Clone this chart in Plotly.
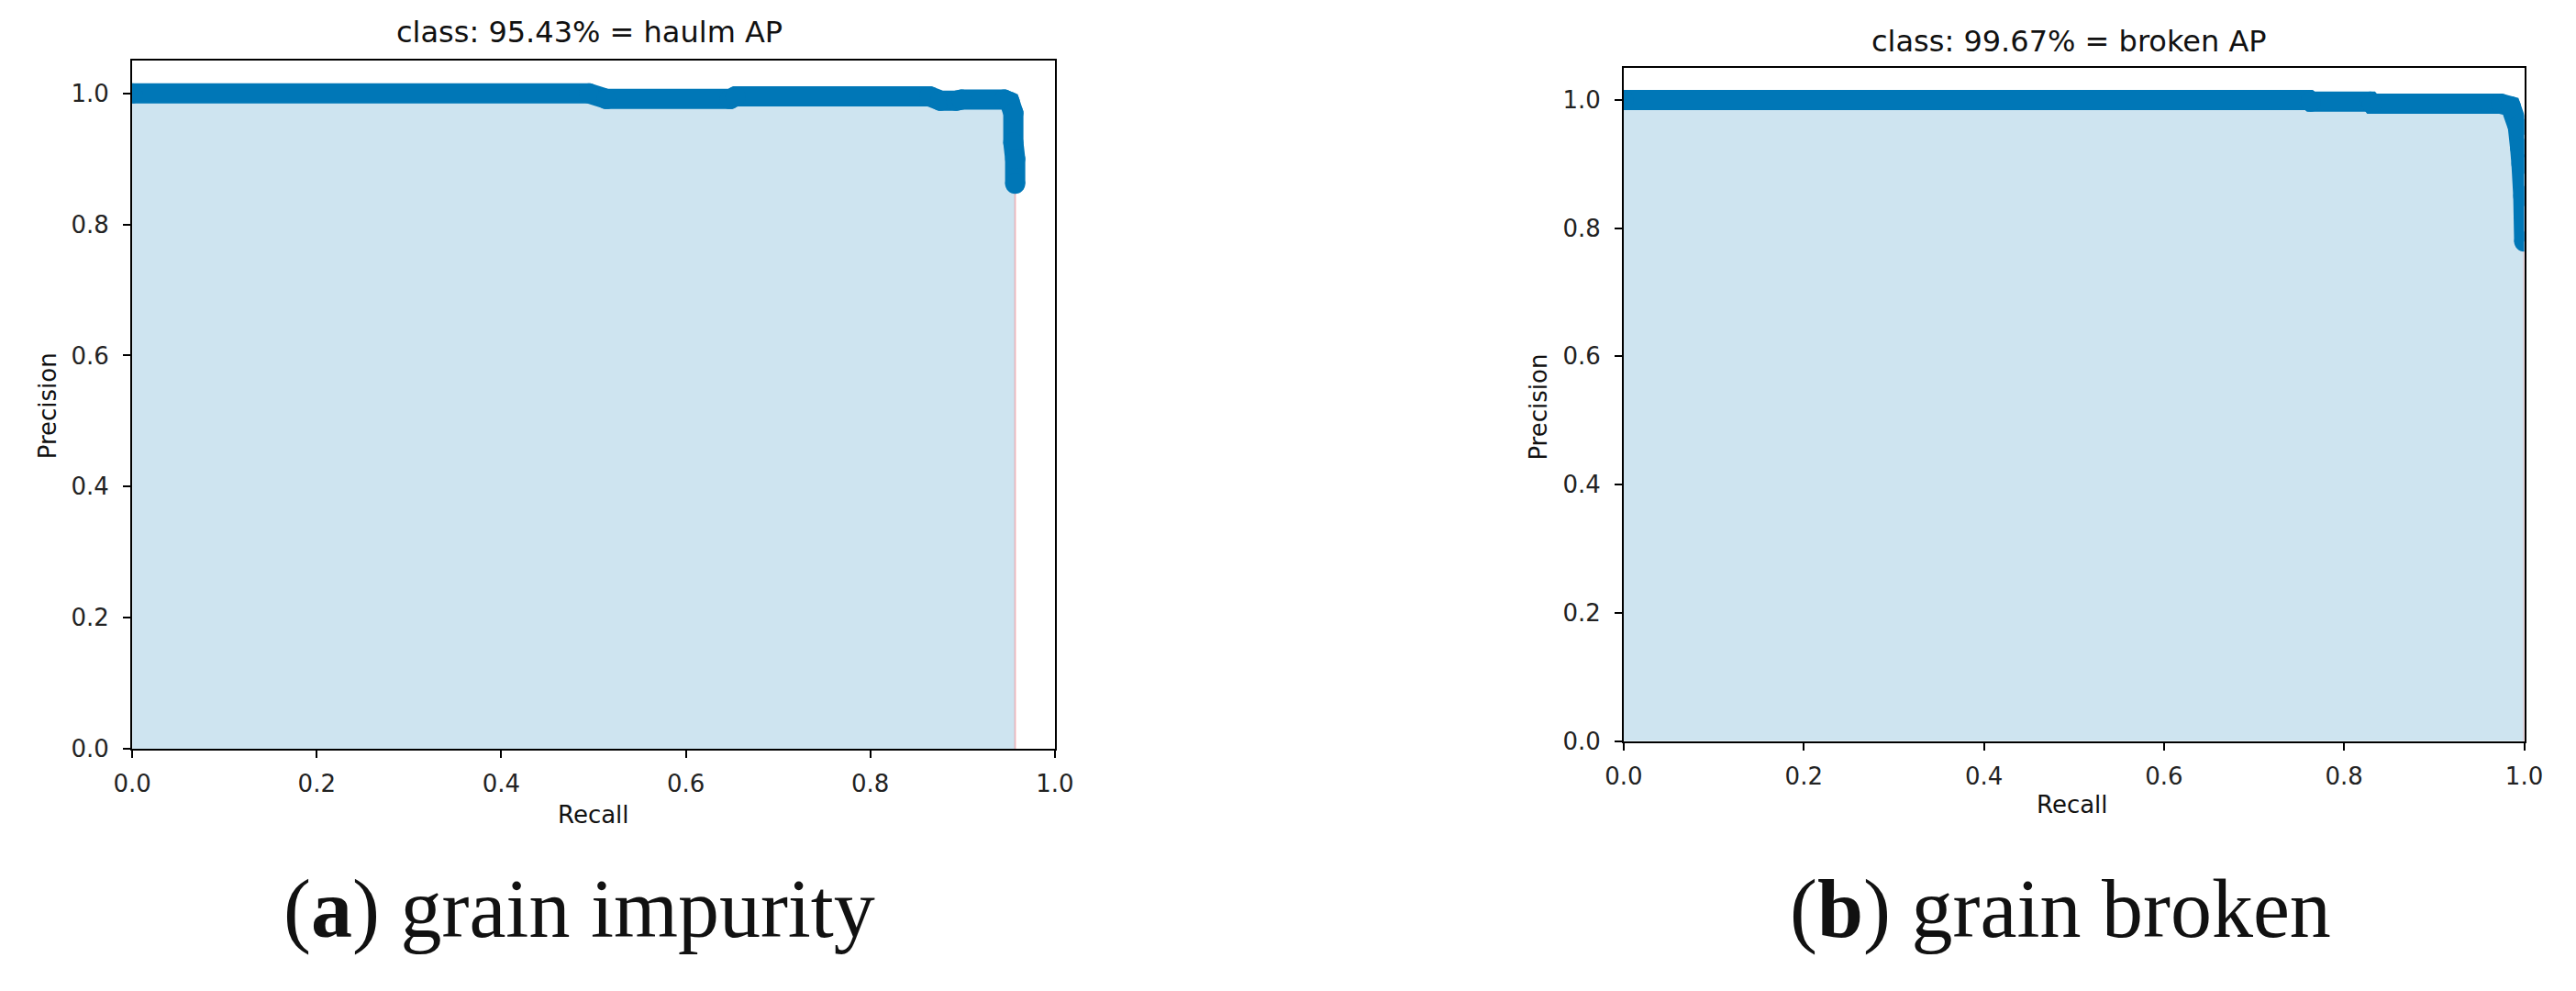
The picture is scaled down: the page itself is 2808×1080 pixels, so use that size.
import plotly.graph_objects as go

W, H = 2808, 1080

# ---- data ----
haulm_recall = [0.0, 0.495, 0.514, 0.648, 0.654, 0.864, 0.876, 0.893, 0.899, 0.945,
                0.951, 0.955, 0.955, 0.957, 0.957]
haulm_precision = [1.0, 1.0, 0.9915, 0.9915, 0.9955, 0.9955, 0.989, 0.989, 0.9905, 0.9905,
                   0.987, 0.97, 0.925, 0.90, 0.862]

broken_recall = [0.0, 0.761, 0.763, 0.829, 0.831, 0.974, 0.985, 0.993, 0.9955, 0.997, 0.999, 1.0]
broken_precision = [1.0, 1.0, 0.9975, 0.9975, 0.994, 0.994, 0.99, 0.958, 0.925, 0.90, 0.85, 0.779]

titles = ["class: 95.43% = haulm AP", "class: 99.67% = broken AP"]
captions = ["(<b>a</b>) grain impurity", "(<b>b</b>) grain broken"]
tick_vals = [0.0, 0.2, 0.4, 0.6, 0.8, 1.0]
tick_text = ["0.0", "0.2", "0.4", "0.6", "0.8", "1.0"]

LINE_C = "#0077b7"
FILL_C = "#cee4f0"
EDGE_C = "rgba(255,0,0,0.22)"
SANS = "DejaVu Sans"

fig = go.Figure()

panels = [
    dict(rec=haulm_recall, prec=haulm_precision, xa="x", ya="y",
         xdom=[125, 1146], ydom=[67, 827.5],
         title=(631, 35), ylab=(31, 449), xlab=(636, 900), cap=(620, 1005)),
    dict(rec=broken_recall, prec=broken_precision, xa="x2", ya="y2",
         xdom=[1775.5, 2772], ydom=[75, 819],
         title=(2268, 46), ylab=(1681, 450), xlab=(2272, 889), cap=(2259, 1005)),
]

annotations = []
for i, p in enumerate(panels):
    rec, prec = p["rec"], p["prec"]
    # filled area under the curve (with drop to zero at the last recall)
    fig.add_trace(go.Scatter(
        x=list(rec) + [rec[-1]], y=list(prec) + [0.0],
        mode="lines", fill="tozeroy", fillcolor=FILL_C,
        line=dict(color=EDGE_C, width=2, simplify=False),
        xaxis=p["xa"], yaxis=p["ya"], showlegend=False, hoverinfo="skip"))
    # thick precision-recall curve
    fig.add_trace(go.Scatter(
        x=rec, y=prec, mode="lines+markers",
        line=dict(color=LINE_C, width=22, simplify=False),
        marker=dict(color=LINE_C, size=22, line=dict(width=0)),
        xaxis=p["xa"], yaxis=p["ya"], showlegend=False))

    sfx = "" if i == 0 else str(i + 1)
    axis_common = dict(
        showline=True, mirror=True, linecolor="black", linewidth=2,
        ticks="outside", ticklen=8, tickwidth=2, tickcolor="black",
        showgrid=False, zeroline=False,
        tickvals=tick_vals, ticktext=tick_text,
        tickfont=dict(family=SANS, size=26, color="#222222"),
    )
    fig.update_layout(**{
        "xaxis" + sfx: dict(axis_common, range=[0, 1],
                            domain=[p["xdom"][0] / W, p["xdom"][1] / W],
                            anchor="y" + sfx, ticklabelstandoff=6),
        "yaxis" + sfx: dict(axis_common, range=[0, 1.05],
                            domain=[1 - p["ydom"][1] / H, 1 - p["ydom"][0] / H],
                            anchor="x" + sfx, ticklabelstandoff=10),
    })

    def ann(text, pos, size, family=SANS, angle=0):
        return dict(text=text, x=pos[0] / W, y=1 - pos[1] / H, xref="paper", yref="paper",
                    showarrow=False, xanchor="center", yanchor="middle", textangle=angle,
                    font=dict(family=family, size=size, color="#111111"))

    annotations.append(ann(titles[i], p["title"], 32))
    annotations.append(ann("Precision", p["ylab"], 26, angle=-90))
    annotations.append(ann("Recall", p["xlab"], 26))
    annotations.append(ann(captions[i], p["cap"], 90, family="Liberation Serif"))

fig.update_layout(
    width=W, height=H, autosize=False,
    margin=dict(l=0, r=0, t=0, b=0, pad=0),
    paper_bgcolor="white", plot_bgcolor="white",
    annotations=annotations, showlegend=False, hovermode=False,
)

fig.write_html("out.html", config={"displayModeBar": False},
               post_script="document.body.style.margin='0';")
